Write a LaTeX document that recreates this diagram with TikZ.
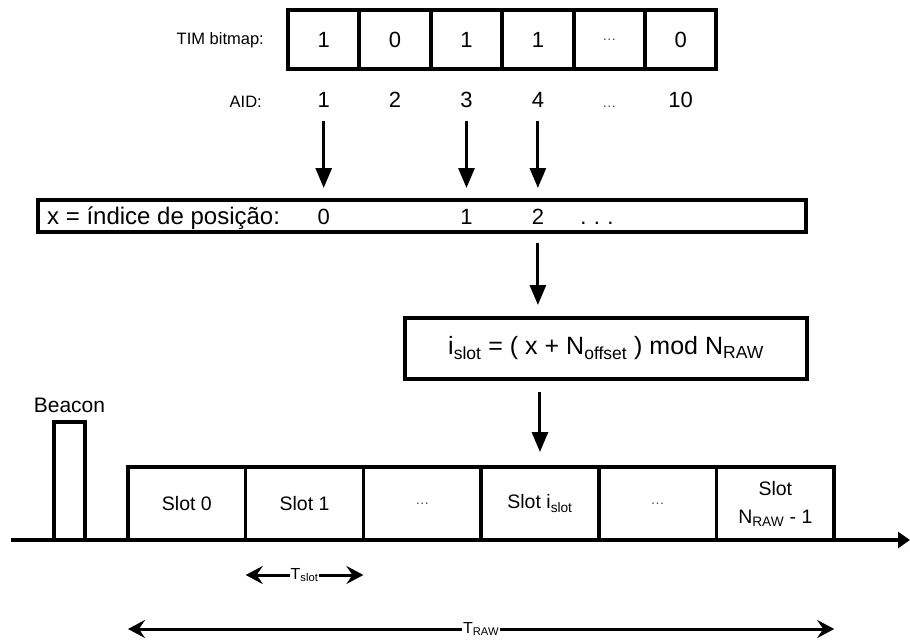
\documentclass[tikz,border=0pt]{standalone}
\usepackage{fontspec}
\setmainfont{Liberation Sans}
\usetikzlibrary{arrows.meta,positioning,calc}
\newcommand{\smalldots}{{\fontsize{14}{16}\selectfont\color{black!70}\ldots}}
\tikzset{
  cell/.style    = {rectangle, draw, line width=4pt, minimum width=71.4pt,
                    minimum height=59pt, outer sep=0pt, inner sep=0pt,
                    font=\fontsize{22}{24}\selectfont},
  aid/.style     = {inner sep=0pt, text height=16pt, text depth=0pt,
                    font=\fontsize{22}{24}\selectfont},
  tag/.style     = {inner sep=0pt, anchor=east, font=\fontsize{16.5}{18}\selectfont},
  bar/.style     = {rectangle, draw, line width=4pt, outer sep=0pt, inner sep=0pt},
  slotbox/.style = {rectangle, draw, line width=3.5pt, minimum width=117.7pt,
                    minimum height=73pt, outer sep=0pt, inner sep=0pt, align=center,
                    font=\fontsize{19.5}{28}\selectfont},
  down/.style    = {-{Triangle[length=20pt,width=16pt]}, line width=3pt},
  span/.style    = {{Stealth[length=17pt,width=18pt,inset=6pt]}-{Stealth[length=17pt,width=18pt,inset=6pt]},
                    line width=3pt},
  axis/.style    = {-{Triangle[length=12pt,width=16pt]}, line width=4.5pt},
  dimlbl/.style  = {fill=white, inner sep=1pt, font=\fontsize{16}{18}\selectfont},
}

\begin{document}
\begin{tikzpicture}[x=1pt, y=-1pt]
    \useasboundingbox (0,0) rectangle (910,641);

    % bitmap
    \node[cell] (c1) at (323.7,39.5) {1};
    \node[cell, right=0pt of c1] (c2) {0};
    \node[cell, right=0pt of c2] (c3) {1};
    \node[cell, right=0pt of c3] (c4) {1};
    \node[cell, right=0pt of c4] (c5) {\smalldots};
    \node[cell, right=0pt of c5] (c6) {0};
    \node[tag] (timlbl) at (264,40) {TIM bitmap:};

    \node[aid, below=22pt of c1] (a1) {1};
    \node[aid, below=22pt of c2] (a2) {2};
    \node[aid, below=22pt of c3] (a3) {3};
    \node[aid, below=22pt of c4] (a4) {4};
    \node[aid, below=22pt of c5] (a5) {\smalldots};
    \node[aid, below=22pt of c6] (a6) {10};
    \node[tag, text height=16pt, text depth=0pt] (aidlbl) at (262,99) {AID:};

    % position index
    \node[bar, minimum width=768pt, minimum height=32pt] (xbox) at (422,216) {};
    \node[aid, anchor=west, font=\fontsize{24}{26}\selectfont, text height=17pt] (xlbl) at ([xshift=9pt]xbox.west) {x = índice de posição:};
    \node[aid] (x0) at (c1 |- xbox) {0};
    \node[aid] (x1) at (c3 |- xbox) {1};
    \node[aid] (x2) at (c4 |- xbox) {2};
    \node[aid, right=36pt of x2] (xd) {.\,\,.\,\,.};

    \draw[down, shorten <=14pt, shorten >=12pt] (a1.south) -- (a1.south |- xbox.north);
    \draw[down, shorten <=14pt, shorten >=12pt] (a3.south) -- (a3.south |- xbox.north);
    \draw[down, shorten <=14pt, shorten >=12pt] (a4.south) -- (a4.south |- xbox.north);

    % slot formula
    \node[bar, minimum width=402pt, minimum height=61pt, font=\fontsize{25}{28}\selectfont]
      (fml) at (606,348.5)
      {i\textsubscript{slot} = ( x + N\textsubscript{offset} ) mod N\textsubscript{RAW}};
    \draw[down, shorten <=11pt, shorten >=13pt] (x2 |- xbox.south) -- (x2 |- fml.north);

    % time line
    \coordinate (t0) at (11,540);
    \coordinate (t1) at (910,540);
    \draw[axis] (t0) -- (t1);

    \node[bar, line width=3.5pt, minimum width=31pt, minimum height=118pt, anchor=south] (bcn) at (69.5,540) {};
    \node[above=9pt of bcn, inner sep=0pt, font=\fontsize{21}{24}\selectfont] (bcnlbl) {Beacon};

    \node[slotbox] (s0) at (186.85,503.5) {Slot 0};
    \node[slotbox, right=0pt of s0] (s1) {Slot 1};
    \node[slotbox, right=0pt of s1] (s2) {\smalldots};
    \node[slotbox, right=0pt of s2] (s3) {Slot i\textsubscript{slot}};
    \node[slotbox, right=0pt of s3] (s4) {\smalldots};
    \node[slotbox, right=0pt of s4] (s5) {Slot\\N\textsubscript{RAW} - 1};

    \draw[down, shorten <=13pt, shorten >=15pt] (fml.south -| s3) -- (s3.north);

    % durations
    \draw[span] ([yshift=-35pt]s1.south west) -- node[dimlbl]{T\textsubscript{slot}} ([yshift=-35pt]s1.south east);
    \draw[span] ([yshift=-89pt]s0.south west) -- node[dimlbl]{T\textsubscript{RAW}} ([yshift=-89pt]s5.south east);
\end{tikzpicture}
\end{document}
